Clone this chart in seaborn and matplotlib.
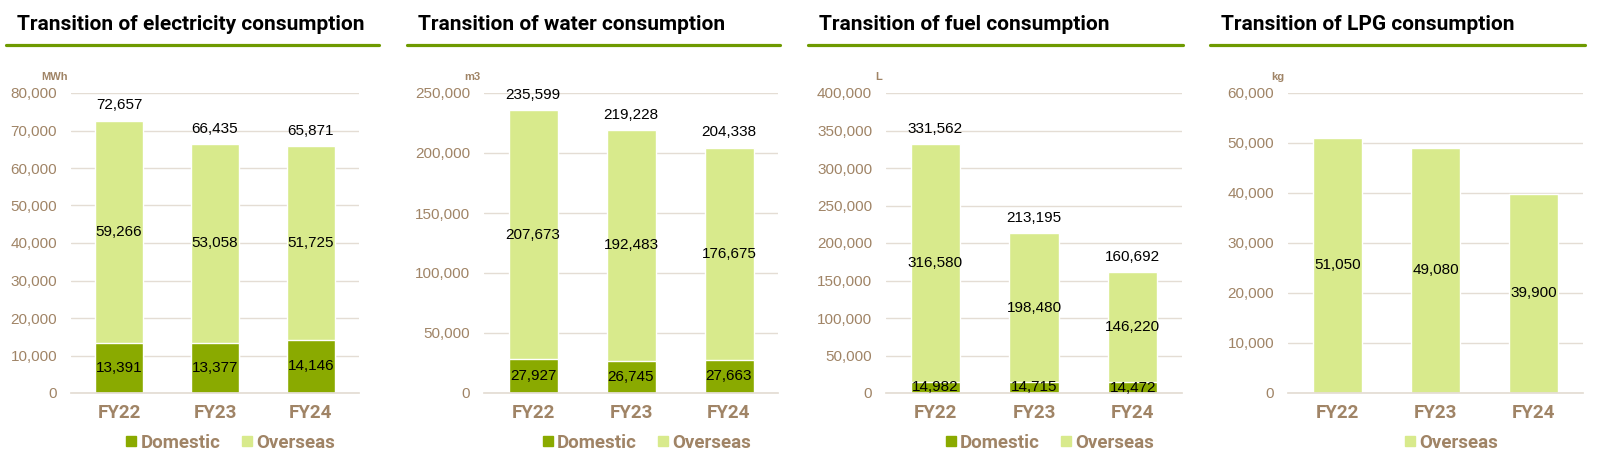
import matplotlib
matplotlib.use("Agg")
import matplotlib.pyplot as plt
from matplotlib.lines import Line2D
import seaborn as sns
import pandas as pd

# data
years = ["FY22", "FY23", "FY24"]

elec_domestic = [13391, 13377, 14146]
elec_overseas = [59266, 53058, 51725]
elec_total = [72657, 66435, 65871]

water_domestic = [27927, 26745, 27663]
water_overseas = [207673, 192483, 176675]
water_total = [235599, 219228, 204338]

fuel_domestic = [14982, 14715, 14472]
fuel_overseas = [316580, 198480, 146220]
fuel_total = [331562, 213195, 160692]

lpg_overseas = [51050, 49080, 39900]

DOM_COLOR = "#8aaa00"
OVS_COLOR = "#d8ea8c"
LINE_GREEN = "#6e9a00"
BROWN = "#a08466"
GRID = "#e4ddd4"

NARROW = ["Roboto", "DejaVu Sans"]
SANS = ["Liberation Sans", "DejaVu Sans"]

sns.set_theme(style="white")
plt.rcParams["font.family"] = SANS

W, H = 1607, 463
fig = plt.figure(figsize=(W / 100, H / 100), dpi=100)


def fx(px):
    return px / W


def fy(py):
    return (H - py) / H


panels = [
    dict(title="Transition of electricity consumption", unit="MWh",
         dom=elec_domestic, ovs=elec_overseas, tot=elec_total,
         ymax=80000, step=10000, line=(6, 379), ax=(71, 359)),
    dict(title="Transition of water consumption", unit="m3",
         dom=water_domestic, ovs=water_overseas, tot=water_total,
         ymax=250000, step=50000, line=(407, 780), ax=(484, 778)),
    dict(title="Transition of fuel consumption", unit="L",
         dom=fuel_domestic, ovs=fuel_overseas, tot=fuel_total,
         ymax=400000, step=50000, line=(808, 1183), ax=(886, 1182)),
    dict(title="Transition of LPG consumption", unit="kg",
         dom=None, ovs=lpg_overseas, tot=None,
         ymax=60000, step=10000, line=(1210, 1585), ax=(1288, 1583)),
]

top_px, bot_px = 93, 393

for p in panels:
    # title and green underline
    fig.text(fx(p["line"][0] + 11), fy(24), p["title"], fontsize=15,
             fontweight="bold", family=NARROW, color="black", va="center")
    fig.add_artist(Line2D([fx(p["line"][0]), fx(p["line"][1])], [fy(45), fy(45)],
                          color=LINE_GREEN, lw=2.3, transform=fig.transFigure))

    x0, x1 = p["ax"]
    ax = fig.add_axes([fx(x0), fy(bot_px), fx(x1 - x0), fy(top_px) - fy(bot_px)])

    if p["dom"] is not None:
        df = pd.DataFrame({"year": years, "dom": p["dom"], "ovs": p["ovs"]})
        df["stack"] = df["dom"] + df["ovs"]
        sns.barplot(data=df, x="year", y="stack", color=OVS_COLOR, width=0.5,
                    saturation=1, ax=ax)
        sns.barplot(data=df, x="year", y="dom", color=DOM_COLOR, width=0.5,
                    saturation=1, ax=ax)
        for i in range(len(years)):
            d, o = p["dom"][i], p["ovs"][i]
            ax.text(i, d / 2, f"{d:,}", ha="center", va="center", fontsize=11,
                    color="black")
            ax.text(i, d + o / 2, f"{o:,}", ha="center", va="center", fontsize=11,
                    color="black")
            ax.annotate(f"{p['tot'][i]:,}", (i, d + o), xytext=(0, 6),
                        textcoords="offset points", ha="center", va="bottom",
                        fontsize=11, color="black")
        handles = [Line2D([], [], marker="s", ls="", color=DOM_COLOR, markersize=7),
                   Line2D([], [], marker="s", ls="", color=OVS_COLOR, markersize=7)]
        labels = ["Domestic", "Overseas"]
    else:
        df = pd.DataFrame({"year": years, "ovs": p["ovs"]})
        sns.barplot(data=df, x="year", y="ovs", color=OVS_COLOR, width=0.5,
                    saturation=1, ax=ax)
        for i in range(len(years)):
            o = p["ovs"][i]
            ax.text(i, o / 2, f"{o:,}", ha="center", va="center", fontsize=11,
                    color="black")
        handles = [Line2D([], [], marker="s", ls="", color=OVS_COLOR, markersize=7)]
        labels = ["Overseas"]

    ax.set_ylim(0, p["ymax"])
    ax.set_yticks(range(0, p["ymax"] + 1, p["step"]))
    ax.set_yticklabels([f"{v:,}" for v in range(0, p["ymax"] + 1, p["step"])])
    ax.set_xlim(-0.5, 2.5)
    ax.set_xlabel("")
    ax.set_ylabel("")
    ax.grid(axis="y", color=GRID, lw=1)
    ax.set_axisbelow(True)
    for s in ["top", "right", "left"]:
        ax.spines[s].set_visible(False)
    ax.spines["bottom"].set_color(GRID)
    ax.tick_params(axis="y", length=0, pad=10, labelsize=11, labelcolor=BROWN)
    ax.tick_params(axis="x", length=0, pad=8, labelcolor=BROWN)
    for t in ax.get_xticklabels():
        t.set_fontsize(13.5)
        t.set_fontweight("bold")
        t.set_family(NARROW)

    # unit label above the axis
    ax.text(-0.012, 1.035, p["unit"], transform=ax.transAxes, ha="right",
            va="bottom", fontsize=8, fontweight="bold", color=BROWN)

    leg = ax.legend(handles, labels, loc="center", bbox_to_anchor=(0.55, -0.165),
                    ncol=len(labels), frameon=False, handletextpad=0.1,
                    columnspacing=1.0, handlelength=0.8,
                    prop=dict(family=NARROW, weight="bold", size=13.5))
    for t in leg.get_texts():
        t.set_color(BROWN)

fig.savefig("out.png", dpi=100)
